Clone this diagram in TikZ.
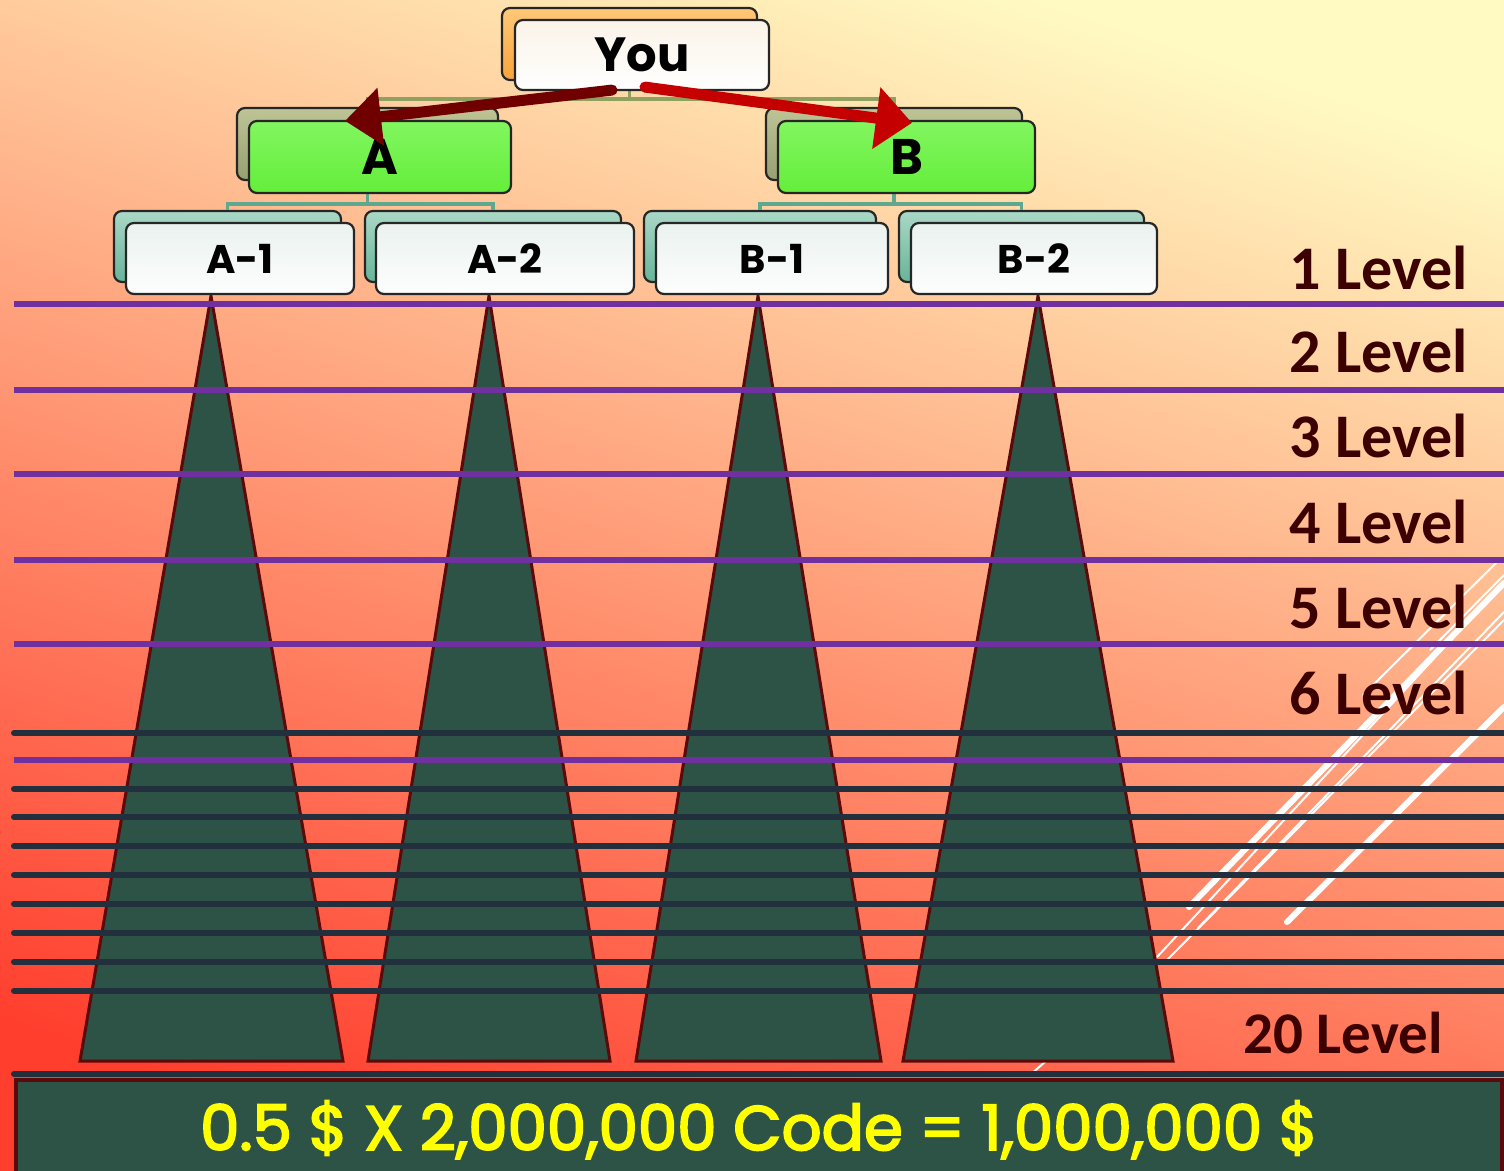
\documentclass[tikz,border=0pt]{standalone}
\usepackage{fontspec}
\usetikzlibrary{arrows.meta}
\newfontfamily\gothic{Poppins}
\newfontfamily\gothicm{Poppins}[FakeBold=3]
\newfontfamily\calib{Carlito}
\definecolor{bgtop}{RGB}{255,250,194}
\definecolor{bgmid}{RGB}{255,170,126}
\definecolor{bgbot}{RGB}{255,62,46}
\definecolor{orbk}{RGB}{248,164,60}
\definecolor{orbklt}{RGB}{255,200,120}
\definecolor{youfill}{RGB}{250,243,232}
\definecolor{olbk}{RGB}{150,160,112}
\definecolor{olbklt}{RGB}{190,196,150}
\definecolor{grfill}{RGB}{100,238,58}
\definecolor{grfilllt}{RGB}{130,246,96}
\definecolor{tlbk}{RGB}{104,180,152}
\definecolor{tlbklt}{RGB}{170,216,198}
\definecolor{chfill}{RGB}{234,242,239}
\definecolor{treeol}{RGB}{143,160,96}
\definecolor{treetl}{RGB}{95,168,144}
\definecolor{trifill}{RGB}{45,82,70}
\definecolor{triedge}{RGB}{90,10,10}
\definecolor{purp}{RGB}{112,48,160}
\definecolor{darkln}{RGB}{34,48,62}
\definecolor{lvl}{RGB}{60,0,0}
\definecolor{arrdark}{RGB}{112,0,0}
\definecolor{arrred}{RGB}{196,0,0}
\definecolor{ylw}{RGB}{255,255,0}
\begin{document}
\begin{tikzpicture}[x=0.5pt,y=-0.5pt,
  card/.style={draw=black!85, line width=1.1pt, rounded corners=4pt, inner sep=0pt},
  youbk/.style={card, top color=orbklt, bottom color=orbk, minimum width=127.5pt, minimum height=36pt},
  youfr/.style={card, top color=youfill, bottom color=white, minimum width=127pt, minimum height=35pt, font=\gothic\bfseries\fontsize{24}{24}\selectfont},
  lvbk/.style={card, top color=olbklt, bottom color=olbk, minimum height=36pt},
  lvfr/.style={card, top color=grfilllt, bottom color=grfill, minimum height=36pt, font=\gothic\bfseries\fontsize{25}{25}\selectfont},
  chbk/.style={card, top color=tlbklt, bottom color=tlbk, minimum height=35.5pt},
  chfr/.style={card, top color=chfill, bottom color=white!90!chfill, minimum height=35.5pt, font=\gothic\bfseries\fontsize{20}{20}\selectfont},
  treeA/.style={draw=treeol, line width=1.6pt},
  treeB/.style={draw=treetl, line width=1.6pt},
  tri/.style={fill=trifill, draw=triedge, line width=1.5pt, line join=miter},
  purpline/.style={draw=purp, line width=2.6pt},
  darkline/.style={draw=darkln, line width=3pt, line cap=round},
  deco/.style={draw=white, line width=#1, line cap=round},
  levellbl/.style={anchor=base east, text=lvl, font=\calib\bfseries\fontsize{31}{31}\selectfont, inner sep=0pt},
  arrowL/.style={draw=arrdark, line width=5.5pt, line cap=round, -{Triangle[length=18pt,width=28pt]}},
  arrowR/.style={draw=arrred, line width=5.5pt, line cap=round, -{Triangle[length=18pt,width=30pt]}},
  totalbox/.style={fill=trifill, draw=triedge, line width=2pt, minimum width=743pt, minimum height=47pt, inner sep=0pt}
]
\useasboundingbox (0,0) rectangle (1504,1171);
\shade[shading=axis, top color=bgtop, middle color=bgmid, bottom color=bgbot, shading angle=-18] (-20,-20) rectangle (1524,1191);

% white decorative streaks
\draw[deco=3pt] (1189,907) -- (1504,583);
\draw[deco=1pt] (1198,928) -- (1504,612);
\draw[deco=1pt] (1157,957) -- (1490,598);
\draw[deco=1pt] (1167,960) -- (1504,620);
\draw[deco=3pt] (1287,922) -- (1504,707);
\draw[deco=1pt] (1363,695) -- (1497,562);
\draw[deco=1pt] (1430,650) -- (1504,575);
\draw[deco=1pt] (1030,1075) -- (1046,1061);

% triangles
\filldraw[tri] (211,296) -- (343,1061) -- (80,1061) -- cycle;
\filldraw[tri] (489,296) -- (610,1061) -- (368,1061) -- cycle;
\filldraw[tri] (758,296) -- (881,1061) -- (636,1061) -- cycle;
\filldraw[tri] (1038,296) -- (1173,1061) -- (903,1061) -- cycle;

% level lines
\foreach \yy in {733,789,817,846,875,904,933,962,991,1074}
  \draw[darkline] (14,\yy) -- (1504,\yy);
\foreach \yy in {304,390,474,560,644,760}
  \draw[purpline] (14,\yy) -- (1504,\yy);

% level labels
\node[levellbl] (l1) at (1468,290) {1 Level};
\node[levellbl] (l2) at (1468,372) {2 Level};
\node[levellbl] (l3) at (1468,458) {3 Level};
\node[levellbl] (l4) at (1468,543) {4 Level};
\node[levellbl] (l5) at (1468,628) {5 Level};
\node[levellbl] (l6) at (1468,714) {6 Level};
\node[levellbl, font=\calib\bfseries\fontsize{29.5}{29.5}\selectfont] (l20) at (1443,1053) {20 Level};

% org chart boxes (back layers)
\node[youbk] (youback) at (629.5,44) {};
\node[lvbk, minimum width=130.5pt] (aback) at (367.5,144) {};
\node[lvbk, minimum width=128pt] (bback) at (894,144) {};
\node[chbk, minimum width=113.5pt] (a1back) at (227.5,246.5) {};
\node[chbk, minimum width=128pt] (a2back) at (493,246.5) {};
\node[chbk, minimum width=116pt] (b1back) at (760,246.5) {};
\node[chbk, minimum width=122.5pt] (b2back) at (1021.5,246.5) {};

% tree connectors
\draw[treeA] (youback.south) -- ++(0,18) -| (aback.north);
\draw[treeA] (youback.south) -- ++(0,18) -| (bback.north);
\draw[treeB] (aback.south) -- ++(0,23) -| (a1back.north);
\draw[treeB] (aback.south) -- ++(0,23) -| (a2back.north);
\draw[treeB] (bback.south) -- ++(0,23) -| (b1back.north);
\draw[treeB] (bback.south) -- ++(0,23) -| (b2back.north);

% front layers
\node[youfr] (you) at (642,55) {You};
\node[lvfr, minimum width=131pt] (a) at (380,157) {A};
\node[lvfr, minimum width=128.5pt] (b) at (906.5,157) {B};
\node[chfr, minimum width=114pt] (a1) at (240,258.5) {A-1};
\node[chfr, minimum width=129pt] (a2) at (505,258.5) {A-2};
\node[chfr, minimum width=116pt] (b1) at (772,258.5) {B-1};
\node[chfr, minimum width=123pt] (b2) at (1034,258.5) {B-2};

% red arrows
\draw[arrowL] ([xshift=-15pt,yshift=0.5pt]you.south) -- ([xshift=-17.5pt,yshift=-0.5pt]a.north);
\draw[arrowR] ([xshift=1.5pt,yshift=2pt]you.south) -- ([xshift=2.75pt,yshift=-1.5pt]b.north);

% total
\node[totalbox] (total) at (759,1127) {};
\node[anchor=base, text=ylw, inner sep=0pt, font=\gothicm\fontsize{31.3}{31.3}\selectfont] (totaltext) at (759,1150) {0.5 \$ X 2,000,000 Code = 1,000,000 \$};
\end{tikzpicture}
\end{document}
